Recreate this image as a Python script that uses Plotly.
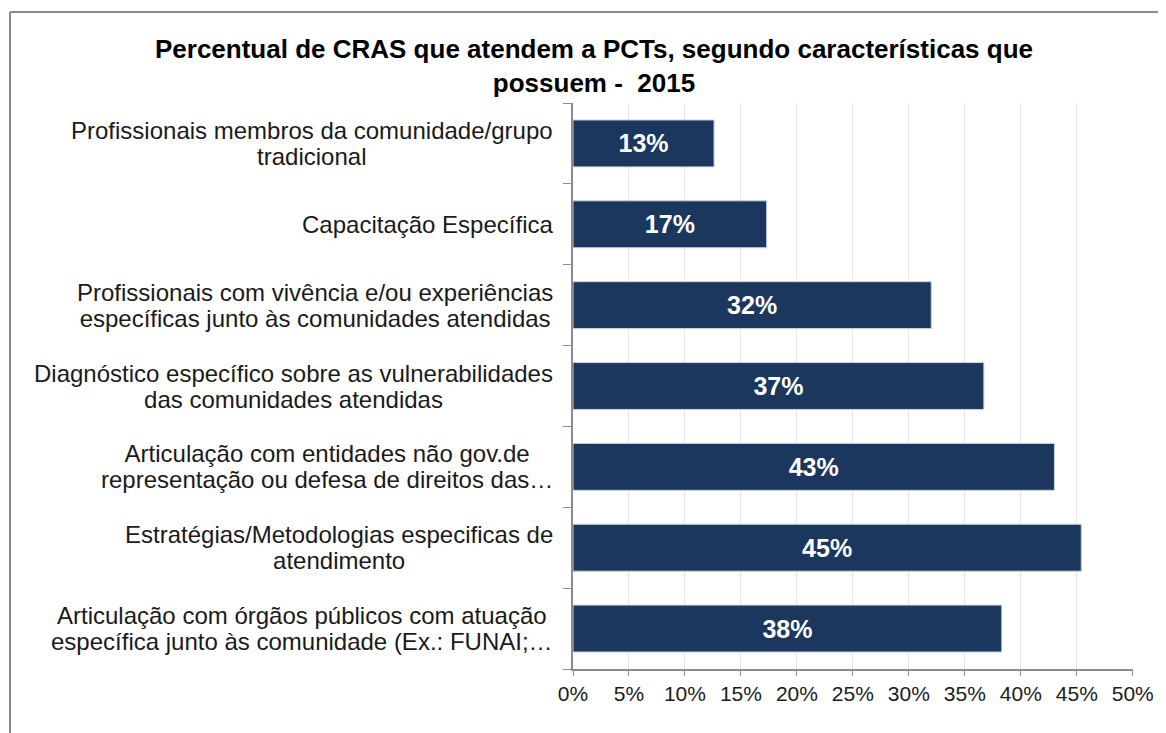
import plotly.graph_objects as go

categories = [
    "Profissionais membros da comunidade/grupo<br>tradicional",
    "Capacitação Específica",
    "Profissionais com vivência e/ou experiências<br>específicas junto às comunidades atendidas",
    "Diagnóstico específico sobre as vulnerabilidades<br>das comunidades atendidas",
    "Articulação com entidades não gov.de<br>representação ou defesa de direitos das…",
    "Estratégias/Metodologias especificas de<br>atendimento",
    "Articulação com órgãos públicos com atuação<br>específica junto às comunidade (Ex.: FUNAI;…",
]
values = [12.6, 17.3, 32.0, 36.7, 43.0, 45.4, 38.3]
x_ticks = [0, 5, 10, 15, 20, 25, 30, 35, 40, 45, 50]
x_tick_labels = [f"{t}%" for t in x_ticks]
title_text = "Percentual de CRAS que atendem a PCTs, segundo características que<br>possuem -  2015"

FONT = "Liberation Sans, Arial, sans-serif"
ids = list(range(len(categories)))
boundaries = [i - 0.5 for i in range(len(categories) + 1)]

W, H = 1158, 725
ML, MR, MT, MB = 565, 26, 95, 64
PW, PH = W - ML - MR, H - MT - MB

fig = go.Figure()
fig.add_trace(go.Bar(
    x=values,
    y=ids,
    orientation="h",
    marker=dict(color="#1c375e", line=dict(color="#c9d2de", width=1)),
    text=[f"{v:.0f}%" for v in values],
    textposition="inside",
    insidetextanchor="middle",
    textfont=dict(family=FONT, size=25, color="white", weight="bold"),
    width=0.58,
    hoverinfo="skip",
))

annotations = []
for i, c in zip(ids, categories):
    styled = "<br>".join(
        f"<span style='font-size:24px'>{line}</span>" for line in c.split("<br>")
    )
    annotations.append(dict(
        x=0, xref="paper", y=i, yref="y",
        text=styled, showarrow=False, xanchor="right", yanchor="middle",
        align="center", xshift=-18,
        font=dict(family=FONT, size=20, color="#1a1a1a"),
    ))

fx0 = -5
fy0 = 4
shapes = [
    dict(type="line", xref="paper", yref="paper",
         x0=(fx0 - ML) / PW, x1=1.2, y0=(MT + PH - fy0) / PH, y1=(MT + PH - fy0) / PH,
         line=dict(color="#8a8a8a", width=2)),
    dict(type="line", xref="paper", yref="paper",
         x0=(fx0 - ML) / PW, x1=(fx0 - ML) / PW, y0=(MT + PH - fy0) / PH, y1=-0.3,
         line=dict(color="#8a8a8a", width=2)),
]

fig.update_layout(
    width=W, height=H,
    margin=dict(l=ML, r=MR, t=MT, b=MB),
    paper_bgcolor="white", plot_bgcolor="white",
    showlegend=False,
    title=dict(
        text=title_text, x=(594 - 8) / W, xref="container", xanchor="center",
        y=1 - 50 / H, yref="container", yanchor="top",
        font=dict(family=FONT, size=26, color="#000000", weight="bold"),
    ),
    annotations=annotations,
    shapes=shapes,
    xaxis=dict(
        range=[0, 50.02], tickmode="array", tickvals=x_ticks, ticktext=x_tick_labels,
        showgrid=True, gridcolor="#e6e6e6", gridwidth=1,
        showline=True, linecolor="#8c8c8c", linewidth=1.5,
        ticks="outside", ticklen=5, tickcolor="#8c8c8c",
        tickfont=dict(family=FONT, size=21, color="#1a1a1a"),
        ticklabeloverflow="allow",
        zeroline=False, fixedrange=True,
    ),
    yaxis=dict(
        range=[len(categories) - 0.5, -0.5],
        tickmode="array", tickvals=boundaries, ticktext=[""] * len(boundaries),
        showline=True, linecolor="#8c8c8c", linewidth=1.5,
        ticks="outside", ticklen=8, tickcolor="#8c8c8c",
        showgrid=False, zeroline=False, fixedrange=True,
    ),
)

fig.write_html("out.html")
